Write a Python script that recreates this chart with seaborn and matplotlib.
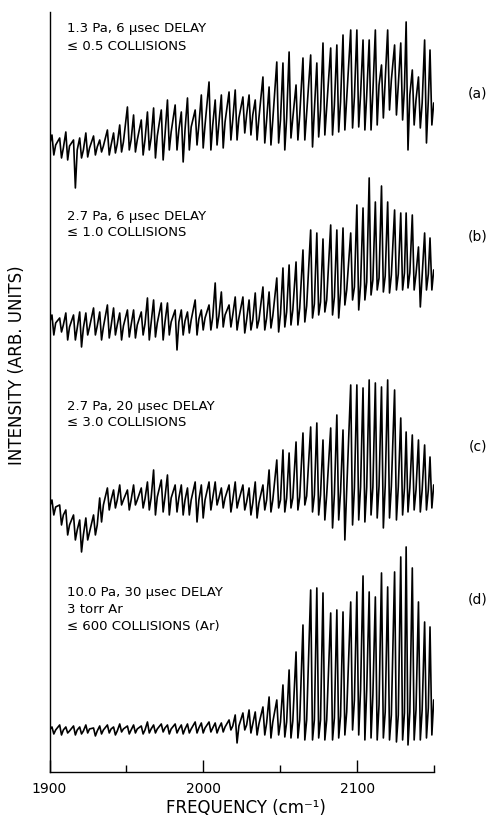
import numpy as np
import pandas as pd
import matplotlib
matplotlib.use("Agg")
import matplotlib.pyplot as plt
import seaborn as sns

sns.set_style("white", {"text.color": "black", "axes.labelcolor": "black",
                        "xtick.color": "black", "ytick.color": "black",
                        "axes.edgecolor": "black"})
plt.rcParams['font.family'] = ['DejaVu Sans']

# rotational line positions (cm-1), shared by all four traces
line_freq = [1902, 1907, 1911, 1916, 1920, 1924, 1929, 1933, 1938, 1942,
             1946, 1951, 1955, 1960, 1964, 1968, 1973, 1977, 1982, 1986,
             1990, 1995, 1999, 2004, 2008, 2012, 2017, 2021, 2026, 2030,
             2034, 2039, 2043, 2048, 2052, 2056, 2060.5, 2065, 2070, 2074,
             2078, 2083, 2087, 2091, 2096, 2100, 2104, 2108, 2112, 2116,
             2120, 2124.5, 2128.5, 2132, 2136, 2140, 2144, 2147.5]

# (a) 1.3 Pa, 6 usec : peak top, dip bottom, level after each line (arb. units)
top_a = [65, 62, 68, 60, 62, 67, 64, 60, 70, 67, 75, 93, 85, 80, 88, 92, 90, 100, 95, 88,
         102, 90, 105, 118, 100, 105, 108, 110, 103, 105, 100, 123, 113, 138, 137, 148, 115, 142, 145, 137,
         157, 152, 155, 165, 170, 170, 160, 160, 170, 135, 170, 155, 157, 178, 130, 123, 160, 150]
low_a = [45, 42, 40, 12, 42, 43, 45, 48, 45, 47, 48, 50, 48, 45, 50, 42, 40, 50, 50, 38,
         50, 55, 52, 50, 55, 52, 60, 60, 67, 65, 60, 57, 55, 57, 50, 62, 60, 60, 53, 63,
         65, 65, 68, 70, 72, 73, 70, 70, 75, 82, 90, 85, 80, 50, 75, 72, 57, 75]
mid_a = [55, 52, 54, 50, 50, 52, 53, 54, 55, 56, 58, 60, 60, 60, 62, 64, 65, 68, 70, 70,
         73, 75, 75, 75, 76, 78, 80, 82, 85, 85, 82, 80, 80, 80, 82, 82, 85, 87, 90, 90,
         92, 95, 98, 102, 103, 105, 105, 108, 115, 120, 120, 115, 112, 105, 100, 97, 100, 97]

# (b) 2.7 Pa, 6 usec
top_b = [55, 52, 57, 55, 58, 57, 62, 58, 65, 62, 57, 60, 60, 58, 72, 70, 67, 67, 60, 60,
         58, 70, 60, 65, 87, 78, 65, 73, 73, 70, 77, 83, 78, 92, 102, 105, 108, 120, 140, 137,
         131, 145, 140, 142, 137, 165, 162, 192, 168, 184, 168, 160, 157, 157, 155, 123, 137, 132]
low_b = [35, 38, 30, 30, 23, 35, 35, 30, 32, 35, 30, 33, 32, 35, 30, 33, 30, 35, 20, 35,
         37, 35, 40, 40, 42, 43, 43, 40, 37, 40, 42, 40, 42, 38, 43, 45, 45, 48, 52, 55,
         58, 55, 52, 65, 70, 60, 70, 75, 80, 78, 77, 80, 80, 82, 80, 63, 80, 80]
mid_b = [47, 45, 43, 42, 42, 43, 44, 43, 44, 45, 44, 45, 45, 46, 47, 47, 48, 48, 48, 49,
         50, 51, 52, 53, 54, 55, 55, 52, 50, 50, 50, 52, 54, 56, 58, 60, 62, 64, 66, 68,
         70, 73, 77, 80, 83, 85, 88, 90, 92, 94, 95, 96, 97, 97, 96, 95, 96, 100]

# (c) 2.7 Pa, 20 usec
top_c = [70, 65, 60, 55, 50, 52, 55, 72, 82, 80, 85, 80, 85, 82, 88, 100, 90, 95, 85, 85,
         82, 88, 85, 88, 88, 82, 85, 88, 85, 82, 88, 85, 100, 110, 120, 117, 128, 137, 143, 147,
         130, 142, 155, 140, 185, 185, 182, 190, 187, 183, 190, 180, 152, 138, 135, 130, 125, 113]
low_c = [55, 45, 35, 30, 18, 30, 35, 48, 60, 62, 65, 60, 65, 62, 60, 55, 58, 55, 58, 55,
         55, 48, 52, 60, 65, 62, 58, 62, 60, 55, 52, 60, 58, 62, 58, 62, 60, 65, 58, 55,
         50, 42, 50, 30, 45, 50, 48, 55, 52, 42, 52, 50, 55, 58, 60, 58, 60, 62]
mid_c = [63, 55, 45, 40, 35, 38, 45, 65, 70, 70, 70, 70, 70, 71, 72, 73, 73, 72, 72, 70,
         70, 70, 70, 72, 72, 72, 70, 70, 68, 67, 67, 70, 70, 70, 72, 72, 73, 74, 75, 75,
         75, 76, 78, 80, 82, 83, 83, 83, 84, 84, 84, 83, 82, 82, 80, 80, 80, 85]

# (d) 10.0 Pa, 30 usec, 3 torr Ar
top_d = [43, 45, 43, 44, 43, 45, 42, 44, 45, 43, 46, 44, 45, 44, 48, 45, 46, 45, 46, 45,
         46, 48, 47, 48, 47, 47, 50, 55, 57, 60, 58, 63, 73, 70, 85, 100, 118, 145, 180, 182,
         177, 157, 160, 158, 168, 178, 194, 178, 173, 197, 183, 198, 213, 223, 202, 168, 148, 143]
low_d = [36, 35, 37, 35, 36, 37, 34, 36, 37, 35, 38, 36, 37, 36, 37, 37, 38, 36, 37, 36,
         37, 37, 37, 38, 37, 38, 40, 27, 40, 37, 35, 35, 32, 35, 33, 32, 32, 30, 30, 32,
         30, 30, 32, 35, 40, 35, 30, 32, 30, 32, 30, 28, 30, 25, 30, 30, 32, 35]
mid_d = [40, 40, 39, 40, 39, 41, 39, 40, 41, 39, 41, 40, 41, 40, 41, 41, 42, 41, 41, 41,
         41, 42, 42, 42, 42, 43, 44, 44, 45, 46, 46, 47, 48, 48, 48, 49, 50, 50, 50, 50,
         50, 52, 54, 58, 70, 80, 80, 75, 65, 58, 55, 55, 57, 58, 60, 60, 62, 70]

# vertical offsets of the stacked traces
offsets = {"a": 572, "b": 402, "c": 202, "d": 2}

labels = {
    "a": ["1.3 Pa, 6 μsec DELAY", "≤ 0.5 COLLISIONS"],
    "b": ["2.7 Pa, 6 μsec DELAY", "≤ 1.0 COLLISIONS"],
    "c": ["2.7 Pa, 20 μsec DELAY", "≤ 3.0 COLLISIONS"],
    "d": ["10.0 Pa, 30 μsec DELAY", "3 torr Ar", "≤ 600 COLLISIONS (Ar)"],
}
label_y = {"a": [739.5, 721.5], "b": [551.5, 536], "c": [361.5, 346],
           "d": [175.5, 159, 141.5]}
panel_y = {"a": 678, "b": 535, "c": 325, "d": 172}


def trace(top, low, mid, off):
    """zig-zag through peak top, dip and level after each line"""
    xs, ys = [1900.0], [off + mid[0]]
    for f, t, l, m in zip(line_freq, top, low, mid):
        xs += [f - 0.4, f + 0.8, f + 2.0]
        ys += [off + t, off + l, off + m]
    return pd.DataFrame({"freq": xs, "inten": ys})


fig = plt.figure(figsize=(4.99, 8.15), dpi=100)
ax = fig.add_axes([0.0992, 0.0528, 0.7715, 0.9325])

series = {"a": (top_a, low_a, mid_a), "b": (top_b, low_b, mid_b),
          "c": (top_c, low_c, mid_c), "d": (top_d, low_d, mid_d)}

for key, (t, l, m) in series.items():
    df = trace(t, l, m, offsets[key])
    sns.lineplot(data=df, x="freq", y="inten", sort=False, estimator=None,
                 color="black", lw=1.2, ax=ax)
    for txt, yy in zip(labels[key], label_y[key]):
        ax.text(1911.4, yy, txt, fontsize=9.5, va="baseline", ha="left", color="black")
    ax.text(2178, panel_y[key], "(%s)" % key, fontsize=10, va="center", ha="center",
            color="black")

ax.set_xlim(1900, 2150)
ax.set_ylim(0, 760)
ax.set_yticks([])
ax.set_xticks([1900, 2000, 2100])
ax.set_xticklabels(["1900", "2000", "2100"], fontsize=10)
ax.set_xticks([1950, 2050, 2150], minor=True)
ax.tick_params(axis="x", which="major", direction="in", length=8.5, width=1.0, pad=7,
               bottom=True, colors="black")
ax.tick_params(axis="x", which="minor", direction="in", length=5, width=1.0,
               bottom=True, colors="black")

for s in ["top", "right"]:
    ax.spines[s].set_visible(False)
for s in ["left", "bottom"]:
    ax.spines[s].set_color("black")
    ax.spines[s].set_linewidth(1.0)

ax.set_xlabel("FREQUENCY (cm⁻¹)", fontsize=12, color="black")
ax.xaxis.set_label_coords(0.51, -0.035)
ax.set_ylabel("INTENSITY (ARB. UNITS)", fontsize=12, color="black")
ax.yaxis.set_label_coords(-0.061, 0.5355)

fig.savefig("out.png", dpi=100)
